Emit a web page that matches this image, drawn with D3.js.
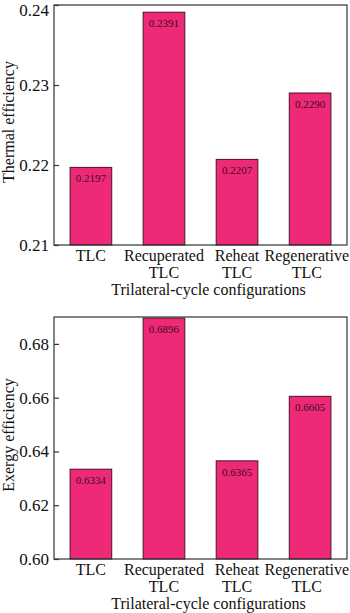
<!DOCTYPE html>
<html>
<head>
<meta charset="utf-8">
<script src="https://cdn.jsdelivr.net/npm/d3@7"></script>
<style>
  body { margin: 0; background: #fff; }
  svg { display: block; font-family: "Liberation Serif", "Times New Roman", serif; }
</style>
</head>
<body>
<div id="chart"></div>
<script>
// Data
const configs = ["TLC", "Recuperated TLC", "Reheat TLC", "Regenerative TLC"];
const configLines = [["TLC"], ["Recuperated", "TLC"], ["Reheat", "TLC"], ["Regenerative", "TLC"]];
const thermalEff = [0.2197, 0.2391, 0.2207, 0.2290];
const exergyEff = [0.6334, 0.6896, 0.6365, 0.6605];
const thermalTicks = [0.21, 0.22, 0.23, 0.24];
const exergyTicks = [0.60, 0.62, 0.64, 0.66, 0.68];

const W = 350, H = 613;
const svg = d3.select("#chart").append("svg")
    .attr("width", W)
    .attr("height", H);

function panel(opts) {
    const { values, ticks, domain, top, bottom, yLabel, fmtTick } = opts;
    const left = 54, right = 347;

    const x = d3.scaleBand()
        .domain(configs)
        .range([left, right])
        .paddingInner(0.43)
        .paddingOuter(0.22);

    const y = d3.scaleLinear()
        .domain(domain)
        .range([bottom, top]);

    const g = svg.append("g");

    // bars
    g.selectAll("rect.bar")
        .data(values)
        .join("rect")
        .attr("class", "bar")
        .attr("x", (d, i) => x(configs[i]))
        .attr("width", x.bandwidth())
        .attr("y", d => y(d))
        .attr("height", d => bottom - y(d))
        .attr("fill", "#ee2a78")
        .attr("stroke", "#4a1428")
        .attr("stroke-width", 1);

    // value labels
    g.selectAll("text.val")
        .data(values)
        .join("text")
        .attr("class", "val")
        .attr("x", (d, i) => x(configs[i]) + x.bandwidth() / 2)
        .attr("y", d => y(d) + 15)
        .attr("text-anchor", "middle")
        .style("font-size", "11px")
        .attr("fill", "#3a0a1a")
        .text(d => d.toFixed(4));

    // frame
    g.append("rect")
        .attr("x", left)
        .attr("y", top)
        .attr("width", right - left)
        .attr("height", bottom - top)
        .attr("fill", "none")
        .attr("stroke", "#333")
        .attr("stroke-width", 1.2);

    // y axis (ticks inside)
    const yAxis = g.append("g")
        .attr("transform", `translate(${left},0)`)
        .call(d3.axisRight(y).tickValues(ticks).tickSize(5).tickFormat(fmtTick));
    yAxis.select(".domain").remove();
    yAxis.selectAll("line").attr("stroke", "#333").attr("stroke-width", 1.2);
    yAxis.selectAll("text")
        .attr("x", -5)
        .attr("text-anchor", "end")
        .attr("fill", "#111")
        .style("font-size", "17px")
        .style("font-family", "Liberation Serif, serif");
    // keep the top tick label inside the picture
    yAxis.selectAll(".tick").each(function() {
        const t = d3.select(this).select("text").node();
        const bb = t.getBBox();
        const m = this.transform.baseVal.consolidate().matrix.f;
        if (m + bb.y < 1) d3.select(t).attr("y", 1 - (m + bb.y));
    });

    // x tick labels
    const xl = g.selectAll("text.xl")
        .data(configs)
        .join("text")
        .attr("class", "xl")
        .attr("x", d => x(d) + x.bandwidth() / 2)
        .attr("y", bottom + 16)
        .attr("text-anchor", "middle")
        .attr("fill", "#111")
        .style("font-size", "16px");
    xl.each(function(d, i) {
        d3.select(this).selectAll("tspan")
            .data(configLines[i])
            .join("tspan")
            .attr("x", x(d) + x.bandwidth() / 2)
            .attr("dy", (t, j) => j === 0 ? 0 : 16.5)
            .text(t => t);
        // keep the widest label inside the picture
        const bb = this.getBBox();
        const over = bb.x + bb.width - (W - 1);
        if (over > 0) d3.select(this).attr("transform", `translate(${-over},0)`);
    });

    // x axis title
    g.append("text")
        .attr("x", (left + right) / 2 + 8)
        .attr("y", bottom + 50)
        .attr("text-anchor", "middle")
        .attr("fill", "#111")
        .style("font-size", "16px")
        .text("Trilateral-cycle configurations");

    // y axis title
    g.append("text")
        .attr("transform", "rotate(-90)")
        .attr("x", -(top + bottom) / 2 + 3)
        .attr("y", 14)
        .attr("text-anchor", "middle")
        .attr("fill", "#111")
        .style("font-size", "16px")
        .text(yLabel);
}

panel({
    values: thermalEff,
    ticks: thermalTicks,
    domain: [0.21, 0.24],
    top: 5,
    bottom: 245,
    yLabel: "Thermal efficiency",
    fmtTick: d3.format(".2f")
});

panel({
    values: exergyEff,
    ticks: exergyTicks,
    domain: [0.60, 0.69],
    top: 317,
    bottom: 559,
    yLabel: "Exergy efficiency",
    fmtTick: d3.format(".2f")
});
</script>
</body>
</html>
